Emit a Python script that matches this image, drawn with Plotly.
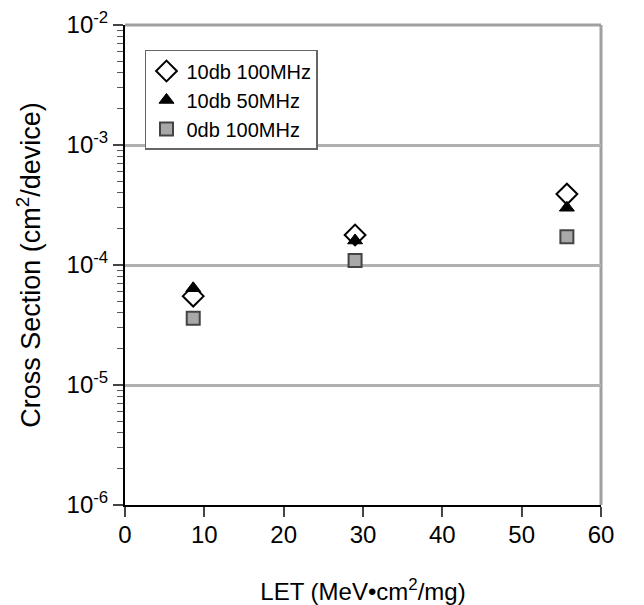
import plotly.graph_objects as go

let_vals = [8.6, 29.0, 55.7]
db10_100 = [5.5e-5, 1.78e-4, 3.9e-4]
db10_50 = [6.4e-5, 1.6e-4, 3.0e-4]
db0_100 = [3.6e-5, 1.09e-4, 1.72e-4]
series_names = ["10db 100MHz", "10db 50MHz", "0db 100MHz"]
y_tickvals = [1e-6, 1e-5, 1e-4, 1e-3, 1e-2]
y_ticktext = ["10<sup>-6</sup>", "10<sup>-5</sup>", "10<sup>-4</sup>", "10<sup>-3</sup>", "10<sup>-2</sup>"]
x_tickvals = [0, 10, 20, 30, 40, 50, 60]
y_minor_vals = [k * d for d in y_tickvals[:-1] for k in range(2, 10)]

FONT = "Liberation Sans, Arial, sans-serif"

fig = go.Figure()
fig.add_trace(go.Scatter(
    x=let_vals, y=db10_100, mode="markers", name=series_names[0],
    marker=dict(symbol="diamond", size=16, color="white", line=dict(color="black", width=2)),
))
fig.add_trace(go.Scatter(
    x=let_vals, y=db10_50, mode="markers", name=series_names[1],
    marker=dict(symbol="triangle-up", size=13, color="black", line=dict(color="black", width=1)),
))
fig.add_trace(go.Scatter(
    x=let_vals, y=db0_100, mode="markers", name=series_names[2],
    marker=dict(symbol="square", size=13, color="#a8a8a8", line=dict(color="#444444", width=2)),
))

# gray top and right frame lines
fig.add_shape(type="line", xref="x domain", yref="y domain", x0=0, x1=1, y0=1, y1=1,
              line=dict(color="#a0a0a0", width=3), layer="below")
fig.add_shape(type="line", xref="x domain", yref="y domain", x0=1, x1=1, y0=0, y1=1,
              line=dict(color="#a0a0a0", width=3), layer="below")

fig.update_layout(
    width=644, height=605,
    margin=dict(l=117, r=51, t=17, b=108, autoexpand=False),
    paper_bgcolor="white", plot_bgcolor="white",
    font=dict(family=FONT, color="black"),
    showlegend=True,
    legend=dict(
        x=0.042, y=0.948, xanchor="left", yanchor="top",
        bgcolor="white", bordercolor="#666666", borderwidth=1.5,
        font=dict(size=20, family=FONT),
        itemsizing="trace",
    ),
    xaxis=dict(
        range=[0, 60], tickvals=x_tickvals, ticks="outside", ticklen=10, tickwidth=2,
        showline=True, linecolor="black", linewidth=2, showgrid=False, zeroline=False,
        tickfont=dict(size=24, family=FONT), automargin=False, ticklabelstandoff=-3,
        title=dict(text="LET (MeV•cm<sup>2</sup>/mg)", font=dict(size=24, family=FONT), standoff=36),
    ),
    yaxis=dict(
        type="log", range=[-6, -2], tickvals=y_tickvals, ticktext=y_ticktext,
        ticks="outside", ticklen=10, tickwidth=2, automargin=False,
        minor=dict(tickmode="array", tickvals=y_minor_vals, ticks="outside", ticklen=6,
                   tickwidth=1, tickcolor="#555555", showgrid=False),
        showline=True, linecolor="black", linewidth=2,
        showgrid=True, gridcolor="#b0b0b0", gridwidth=3, zeroline=False,
        tickfont=dict(size=24, family=FONT),
        title=dict(text="Cross Section (cm<sup>2</sup>/device)", font=dict(size=27, family=FONT), standoff=18),
    ),
)

fig.write_html("out.html")
